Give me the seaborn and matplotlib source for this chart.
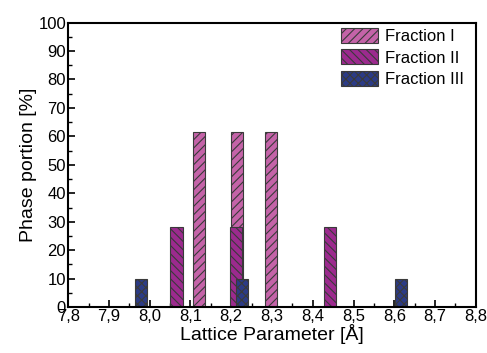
import numpy as np
import pandas as pd
import matplotlib
matplotlib.use("Agg")
import matplotlib.pyplot as plt
import seaborn as sns
from matplotlib.ticker import MultipleLocator, FuncFormatter

# --- data ---
frac1_x = [8.120, 8.215, 8.297]
frac1_y = [61.7, 61.7, 61.7]
frac2_x = [8.066, 8.212, 8.443]
frac2_y = [28.0, 28.0, 28.0]
frac3_x = [7.979, 8.226, 8.617]
frac3_y = [10.0, 10.0, 10.0]

series = [
    ("Fraction I", frac1_x, frac1_y, "#c463a8", "////"),
    ("Fraction II", frac2_x, frac2_y, "#9c2a8e", "\\\\\\\\"),
    ("Fraction III", frac3_x, frac3_y, "#2b3b86", "xxxx"),
]

sns.set_style("ticks")
plt.rcParams["font.family"] = ["Liberation Sans", "DejaVu Sans"]
plt.rcParams["text.color"] = "black"
plt.rcParams["axes.labelcolor"] = "black"
plt.rcParams["hatch.linewidth"] = 0.8

fig, ax = plt.subplots(figsize=(4.87, 3.53), dpi=100)
fig.subplots_adjust(left=0.140, right=0.977, bottom=0.130, top=0.936)

bar_w = 0.030
handles = []
for name, xs, ys, col, hatch in series:
    df = pd.DataFrame({"x": xs, "y": ys})
    n_before = len(ax.patches)
    sns.barplot(data=df, x="x", y="y", native_scale=True,
                width=bar_w / np.min(np.diff(sorted(xs))),
                color=col, saturation=1, edgecolor="#3a3a3a",
                linewidth=0.8, ax=ax, label=name)
    for p in ax.patches[n_before:]:
        p.set_hatch(hatch)
        p.set_facecolor(col)
    handles.append(plt.Rectangle((0, 0), 1, 1, facecolor=col, edgecolor="#3a3a3a",
                                 hatch=hatch, linewidth=0.8, label=name))

ax.set_xlim(7.8, 8.8)
ax.set_ylim(0, 100)
ax.xaxis.set_major_locator(MultipleLocator(0.1))
ax.xaxis.set_minor_locator(MultipleLocator(0.05))
ax.yaxis.set_major_locator(MultipleLocator(10))
ax.yaxis.set_minor_locator(MultipleLocator(5))
ax.xaxis.set_major_formatter(FuncFormatter(lambda v, p: f"{v:.1f}".replace(".", ",")))
ax.tick_params(axis="both", which="major", direction="in", length=5, width=1.2,
               labelsize=12, pad=1.5, colors="black")
ax.tick_params(axis="both", which="minor", direction="in", length=3, width=1.0,
               colors="black")
for s in ax.spines.values():
    s.set_linewidth(1.5)
    s.set_color("black")

ax.set_xlabel("Lattice Parameter [Å]", fontsize=14, labelpad=0)
ax.set_ylabel("Phase portion [%]", fontsize=14, labelpad=1)

ax.legend(handles=handles, loc="upper right", frameon=False, fontsize=12,
          handlelength=2.2, handleheight=1.0, handletextpad=0.4,
          labelspacing=0.3, borderaxespad=0.2, bbox_to_anchor=(0.995, 1.015))

fig.savefig("out.png", dpi=100)
